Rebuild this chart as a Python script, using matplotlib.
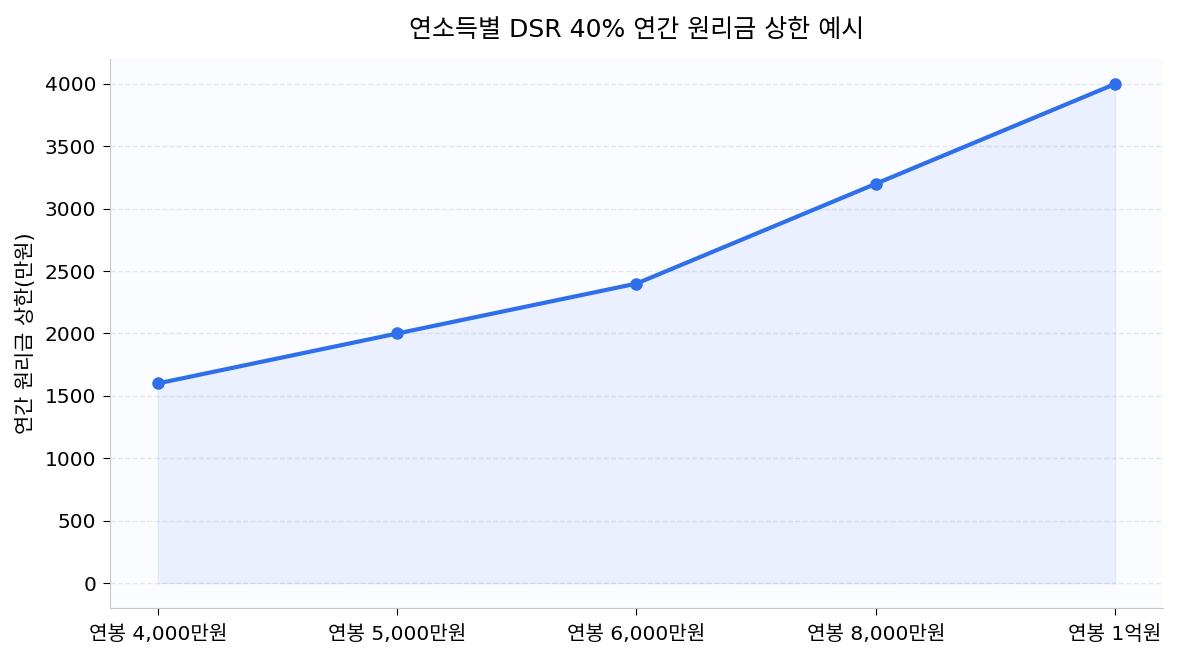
import matplotlib
matplotlib.use("Agg")
import matplotlib.pyplot as plt

plt.rcParams['font.family'] = ['DejaVu Sans', 'Noto Sans CJK KR']

labels = ['연봉 4,000만원', '연봉 5,000만원', '연봉 6,000만원', '연봉 8,000만원', '연봉 1억원']
limits = [1600, 2000, 2400, 3200, 4000]

color = '#2F6FEB'

fig = plt.figure(figsize=(11.79, 6.6), dpi=100)
ax = fig.add_axes([0.0933, 0.0788, 0.8931, 0.8318])
ax.set_facecolor('#FAFCFF')

x = list(range(len(labels)))
ax.fill_between(x, limits, 0, color=color, alpha=0.08)
ax.plot(x, limits, color=color, linewidth=3, marker='o', markersize=8)

ax.set_xticks(x)
ax.set_xticklabels(labels)
ax.tick_params(axis='both', labelsize=14.5, length=5)
ax.tick_params(axis='x', pad=7)
ax.tick_params(axis='y', pad=5)
ax.set_ylabel('연간 원리금 상한(만원)', fontsize=15, labelpad=6)
ax.set_title('연소득별 DSR 40% 연간 원리금 상한 예시', fontsize=18, pad=16)

ax.grid(axis='y', linestyle='--', color='#E5E7EB', linewidth=1)
ax.set_axisbelow(True)
for s in ['top', 'right']:
    ax.spines[s].set_visible(False)
for s in ['left', 'bottom']:
    ax.spines[s].set_color('#C8C8C8')

fig.savefig('out.png', dpi=100)
